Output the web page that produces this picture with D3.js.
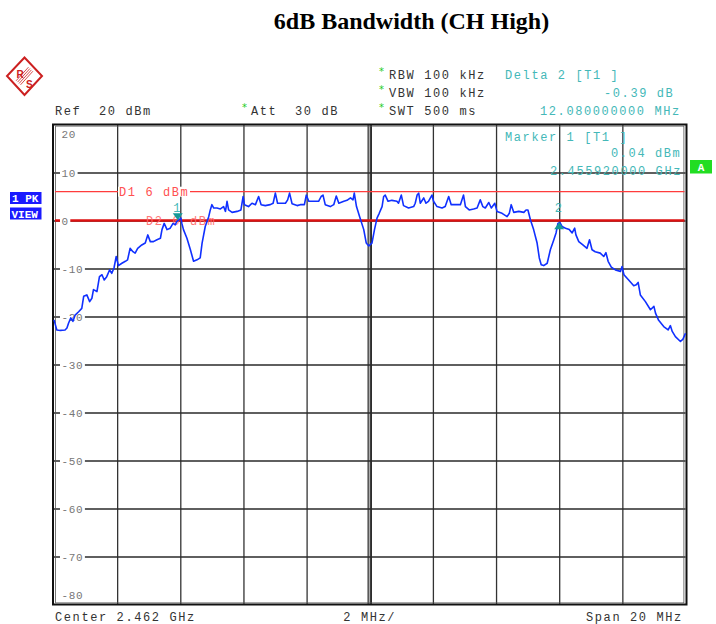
<!DOCTYPE html>
<html><head><meta charset="utf-8">
<script src="https://cdn.jsdelivr.net/npm/d3@7"></script>
<style>
html,body{margin:0;padding:0;background:#fff;}
svg{display:block;}
.mono{font-family:"Liberation Mono","DejaVu Sans Mono",monospace;font-size:12px;letter-spacing:1.6px;}
</style></head>
<body>
<svg id="c" width="716" height="624"></svg>
<script>
// ---- data (frequency offset from centre in MHz, level in dBm) ----
const freqMHz = [-10.00,-9.91,-9.80,-9.65,-9.59,-9.54,-9.47,-9.40,-9.33,-9.22,-9.12,-9.06,-8.96,-8.87,-8.80,-8.75,-8.64,-8.56,-8.48,-8.41,-8.33,-8.24,-8.17,-8.10,-8.03,-7.96,-7.85,-7.74,-7.67,-7.59,-7.50,-7.43,-7.35,-7.22,-7.11,-7.03,-6.95,-6.85,-6.74,-6.63,-6.58,-6.51,-6.42,-6.32,-6.23,-6.16,-6.11,-6.05,-5.98,-5.95,-5.90,-5.79,-5.68,-5.58,-5.47,-5.37,-5.31,-5.21,-5.10,-5.05,-5.00,-4.94,-4.84,-4.73,-4.63,-4.57,-4.52,-4.47,-4.36,-4.20,-4.08,-4.01,-3.97,-3.84,-3.73,-3.62,-3.52,-3.44,-3.31,-3.15,-3.06,-2.99,-2.92,-2.78,-2.67,-2.60,-2.54,-2.46,-2.30,-2.20,-2.07,-2.01,-1.93,-1.77,-1.62,-1.54,-1.48,-1.41,-1.25,-1.14,-1.06,-0.98,-0.82,-0.72,-0.61,-0.53,-0.49,-0.42,-0.32,-0.19,-0.11,-0.03,0.07,0.15,0.23,0.30,0.39,0.44,0.49,0.58,0.70,0.86,0.91,1.00,1.07,1.23,1.39,1.44,1.50,1.55,1.60,1.71,1.78,1.86,1.97,2.02,2.13,2.29,2.39,2.50,2.58,2.71,2.87,2.97,3.03,3.15,3.29,3.40,3.50,3.58,3.66,3.77,3.85,3.96,4.03,4.19,4.35,4.42,4.48,4.56,4.72,4.88,4.95,5.01,5.09,5.19,5.30,5.37,5.43,5.51,5.62,5.72,5.83,5.90,5.96,6.02,6.09,6.20,6.32,6.41,6.49,6.53,6.62,6.75,6.88,6.96,7.04,7.14,7.30,7.41,7.48,7.55,7.65,7.78,7.94,7.99,8.05,8.20,8.36,8.44,8.50,8.57,8.73,8.89,9.00,9.05,9.15,9.31,9.45,9.52,9.58,9.68,9.84,9.92,10.00];
const levelDbm = [-20.7,-22.8,-22.9,-22.8,-22.4,-21.4,-20.3,-21.0,-19.7,-19.0,-18.3,-15.8,-15.5,-16.9,-16.2,-14.4,-14.8,-11.7,-11.3,-12.4,-11.7,-10.3,-11.0,-9.9,-7.5,-9.4,-8.9,-8.5,-8.2,-5.8,-6.5,-6.8,-5.8,-5.1,-4.7,-3.0,-4.4,-4.4,-4.0,-3.7,-1.9,-0.6,-1.9,-1.6,-0.6,-0.9,-0.2,0.1,0.5,-0.6,-1.9,-3.7,-6.1,-8.5,-8.2,-7.8,-4.7,-1.25,0.8,2.2,3.3,2.6,2.6,2.4,2.9,1.9,4.0,2.2,1.7,1.9,2.2,5.0,3.3,2.9,3.6,3.3,5.0,3.3,3.1,3.3,3.6,5.7,3.6,3.6,3.6,4.3,5.7,3.5,3.1,3.3,3.3,5.3,4.0,4.0,4.0,5.0,5.3,3.3,2.9,3.3,5.1,3.6,4.0,4.2,4.7,4.3,5.7,2.9,0.8,-1.9,-4.7,-5.3,-4.7,-1.9,0.5,1.5,2.9,5.0,5.3,4.0,4.2,4.0,3.6,5.3,3.1,2.6,2.9,3.6,5.3,5.7,3.6,4.7,3.6,4.0,5.3,4.0,2.9,2.6,2.9,5.0,3.3,3.3,3.3,5.3,2.9,2.2,2.4,2.6,4.3,2.9,2.6,3.75,2.6,3.6,1.9,1.5,0.8,1.5,3.3,1.7,1.9,1.7,2.2,2.2,0.1,-1.9,-4.7,-7.8,-9.2,-9.4,-8.9,-6.1,-4.0,-2.6,-0.6,-0.4,-1.25,-1.6,-1.9,-2.6,-1.6,-3.0,-4.4,-5.1,-5.8,-4.0,-6.1,-6.5,-6.8,-7.5,-6.7,-8.5,-9.7,-10.3,-10.6,-9.6,-11.3,-12.4,-13.6,-13.4,-12.9,-15.5,-16.9,-18.6,-17.9,-19.3,-20.8,-22.1,-22.8,-21.9,-23.1,-24.2,-25.2,-24.7,-23.5];
const yTicks = [20,10,0,-10,-20,-30,-40,-50,-60,-70,-80];
const xGrid = [-10,-8,-6,-4,-2,0,2,4,6,8,10];
const displayLines = [{name:"D1", level:6}, {name:"D2", level:0}];
const markers = [{id:"1", f:-6.08, level:0.04, dir:"down"}, {id:"2", f:6.00, level:-0.35, dir:"up"}];

const svg = d3.select("#c");
const L = 54, R = 685.5, T = 124.5, B = 604.5;
const x = d3.scaleLinear().domain([-10,10]).range([L,R]);
const y = d3.scaleLinear().domain([-80,20]).range([B,T]);

// title
svg.append("text").attr("x",411.5).attr("y",29).attr("text-anchor","middle")
  .attr("font-family","'Liberation Serif','Times New Roman',serif").attr("font-weight","bold")
  .attr("font-size",24).text("6dB Bandwidth (CH High)");

// R&S logo
const logo = svg.append("g");
logo.append("path").attr("d","M24.5,57.5 L42,76 L24.5,95 L7,76 Z").attr("fill","#fff").attr("stroke","#cc2020").attr("stroke-width",2);
const ux=0.736, uy=0.678;
[-3,-1,1,3].forEach(o=>{
  logo.append("line").attr("x1",33.2+o*ux-2.5).attr("y1",66.5+o*uy+2.7).attr("x2",15.8+o*ux+2.5).attr("y2",85.5+o*uy-2.7)
    .attr("stroke","#cc2020").attr("stroke-width",0.8);
});
logo.append("text").attr("x",16.5).attr("y",78).attr("font-family","Arial,'Liberation Sans',sans-serif").attr("font-weight","bold").attr("font-size",10).attr("fill","#cc2020").text("R");
logo.append("text").attr("x",26).attr("y",88).attr("font-family","Arial,'Liberation Sans',sans-serif").attr("font-weight","bold").attr("font-size",10).attr("fill","#cc2020").text("S");

// header texts
function mtext(xp, yp, t, col){
  return svg.append("text").attr("class","mono").attr("x",xp).attr("y",yp).attr("fill",col||"#333").attr("xml:space","preserve").style("white-space","pre").text(t);
}
function star(xp, yp){
  svg.append("text").attr("x",xp).attr("y",yp).attr("font-family","'DejaVu Sans',sans-serif").attr("font-size",10).attr("fill","#22cc22").text("*");
}
mtext(55,115,"Ref  20 dBm");
star(242,111); mtext(251,115,"Att  30 dB");
star(379,75); mtext(389,79,"RBW 100 kHz");
star(379,93); mtext(389,97,"VBW 100 kHz");
star(379,111); mtext(389,115,"SWT 500 ms");
const teal = "#44b8b8";
mtext(505,79,"Delta 2 [T1 ]",teal);
mtext(604,97,"-0.39 dB",teal);
mtext(540,115,"12.080000000 MHz",teal);

// grid via axes
const gx = svg.append("g").attr("transform",`translate(0,${B})`)
  .call(d3.axisBottom(x).tickValues(xGrid.slice(1,-1)).tickSize(-(B-T)).tickFormat(""));
gx.select(".domain").remove();
gx.selectAll("line").attr("stroke","#333").attr("stroke-width",1.3);
// centre double line
[-1.6,1.6].forEach(d=>svg.append("line").attr("x1",x(0)+d).attr("x2",x(0)+d).attr("y1",T).attr("y2",B).attr("stroke","#222").attr("stroke-width",1.2));

const gy = svg.append("g").attr("transform",`translate(${L},0)`)
  .call(d3.axisLeft(y).tickValues(yTicks.slice(1,-1)).tickSize(-(R-L)).tickFormat(""));
gy.select(".domain").remove();
gy.selectAll("line").attr("stroke","#2a2a2a").attr("stroke-width",1.7);

// frame
svg.append("rect").attr("x",L-1).attr("y",T).attr("width",R-L+2).attr("height",B-T).attr("fill","none").attr("stroke","#111").attr("stroke-width",2);
svg.append("rect").attr("x",L+1.6).attr("y",T+1.6).attr("width",R-L-3.2).attr("height",B-T-3.2).attr("fill","none").attr("stroke","#555").attr("stroke-width",0.8);

// marker info inside plot
mtext(505,140.5,"Marker 1 [T1 ]",teal);
mtext(611,157,"0.04 dBm",teal);
mtext(550,174.5,"2.455920000 GHz",teal);

// display lines
const dl = svg.append("g");
dl.append("line").attr("x1",L+1).attr("x2",R-1).attr("y1",y(6)).attr("y2",y(6)).attr("stroke","#ff3c3c").attr("stroke-width",1.2);
dl.append("line").attr("x1",L+1).attr("x2",R-1).attr("y1",y(0)).attr("y2",y(0)).attr("stroke","#dd1111").attr("stroke-width",2.4);

// y tick labels with white background
yTicks.forEach(v=>{
  let yy, bg = true;
  if (v===20){ yy = y(v)+13.5; bg=false; }
  else if (v===-80){ yy = y(v)-6; bg=false; }
  else yy = y(v)+4.5;
  const t = String(v);
  const w = t.length*7.3;
  if (bg) svg.append("rect").attr("x",60).attr("y",y(v)-5).attr("width",w+3).attr("height",10).attr("fill","#fff");
  svg.append("text").attr("x",61.5).attr("y",yy).attr("font-family","'Liberation Mono',monospace").attr("font-size",11).attr("letter-spacing","0.7px").attr("fill","#777").text(t);
});

// D1 label with bg
svg.append("rect").attr("x",118).attr("y",y(6)-5).attr("width",72).attr("height",10).attr("fill","#fff");
mtext(119,y(6)+4,"D1 6 dBm","#ff5050");
mtext(146,y(0)+4,"D2 0 dBm","#ff6a6a").attr("opacity",0.9);

// trace
const pts = freqMHz.map((f,i)=>[f, levelDbm[i]]);
svg.append("path").datum(pts)
  .attr("d", d3.line().x(d=>x(d[0])).y(d=>y(d[1])))
  .attr("fill","none").attr("stroke","#1030ff").attr("stroke-width",1.6).attr("stroke-linejoin","round");

// markers
markers.forEach(m=>{
  const mx = x(m.f), my = y(m.level);
  const p = m.dir==="down" ? `M${mx-5},${my-7} L${mx+5},${my-7} L${mx},${my} Z` : `M${mx-5},${my+7} L${mx+5},${my+7} L${mx},${my} Z`;
  svg.append("path").attr("d",p).attr("fill","#159999");
  svg.append("text").attr("class","mono").attr("x",mx).attr("y",212).attr("text-anchor","middle").attr("fill",teal).text(m.id);
});

// side boxes
svg.append("rect").attr("x",10).attr("y",192).attr("width",31.5).attr("height",12).attr("fill","#1a1aff");
svg.append("rect").attr("x",10).attr("y",207.5).attr("width",31.5).attr("height",12).attr("fill","#1a1aff");
svg.append("text").attr("x",12).attr("y",202).attr("font-family","'Liberation Mono',monospace").attr("font-weight","bold").attr("font-size",11).attr("fill","#fff").attr("xml:space","preserve").style("white-space","pre").text("1 PK");
svg.append("text").attr("x",11.5).attr("y",217.5).attr("font-family","'Liberation Mono',monospace").attr("font-weight","bold").attr("font-size",11).attr("fill","#fff").text("VIEW");
svg.append("rect").attr("x",690).attr("y",160).attr("width",22).attr("height",13.5).attr("fill","#22dd22");
svg.append("text").attr("x",701).attr("y",170.5).attr("text-anchor","middle").attr("font-family","'Liberation Mono',monospace").attr("font-weight","bold").attr("font-size",11).attr("fill","#fff").text("A");

// bottom labels
mtext(55,621,"Center 2.462 GHz");
mtext(x(0),621,"2 MHz/").attr("text-anchor","middle");
mtext(586,621,"Span 20 MHz");
</script>
</body></html>
